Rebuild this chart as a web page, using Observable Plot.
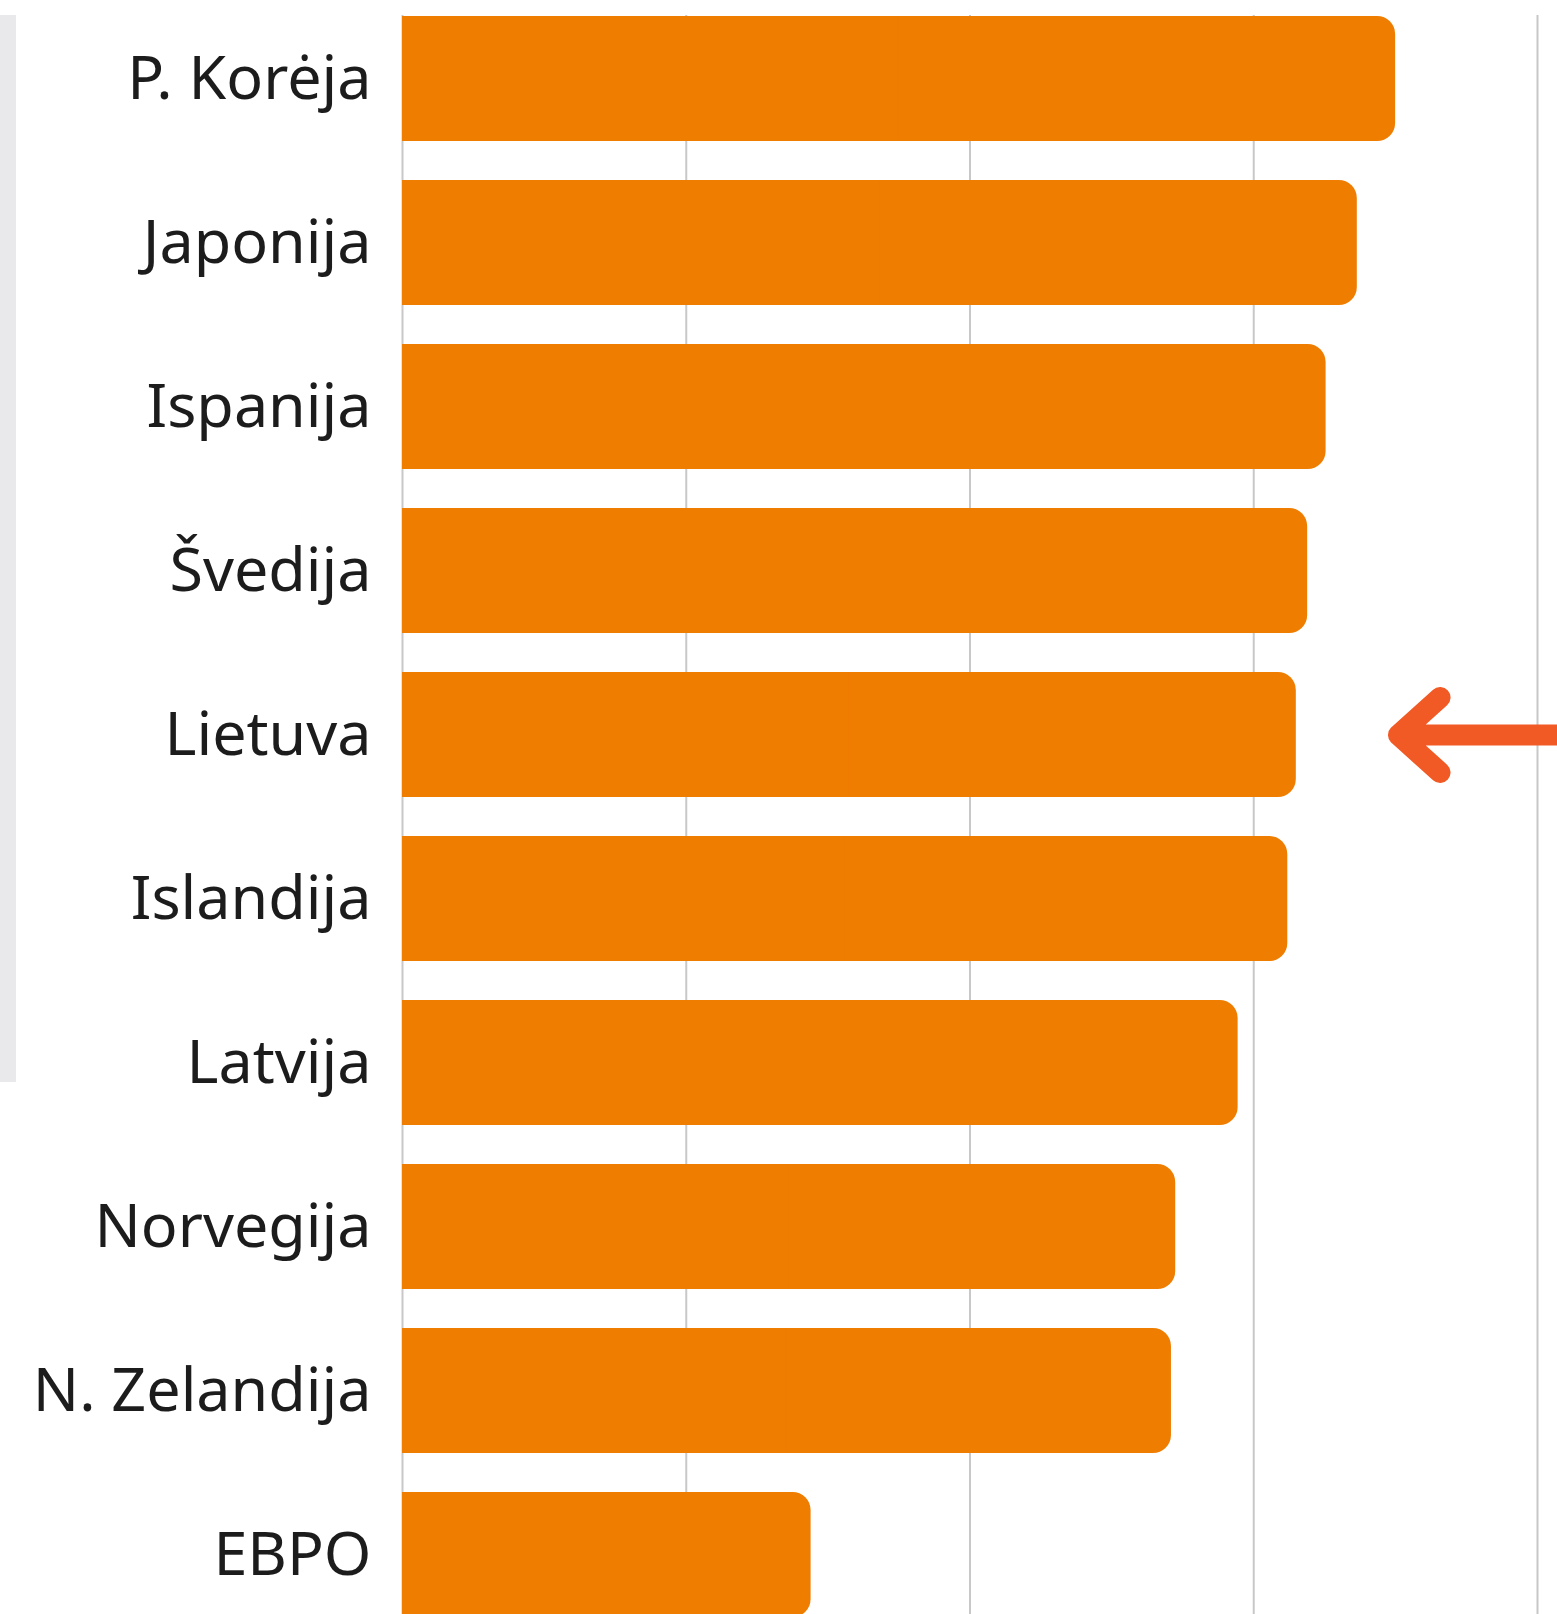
<!DOCTYPE html>
<html>
<head>
<meta charset="utf-8">
<script src="https://cdn.jsdelivr.net/npm/d3@7"></script>
<script src="https://cdn.jsdelivr.net/npm/@observablehq/plot@0.6"></script>
<style>
  html, body { margin: 0; padding: 0; background: #ffffff; }
  #wrap { position: relative; width: 1557px; height: 1614px; overflow: hidden; background: #ffffff; }
  #strip { position: absolute; left: 0; top: 15px; width: 16px; height: 1067px; background: #e9e9eb; z-index: 2; }
  #chart { position: absolute; left: 0; top: 0; z-index: 1; }
  #chart svg { display: block; overflow: hidden; }
</style>
</head>
<body>
<div id="wrap">
  <div id="chart"></div>
  <div id="strip"></div>
</div>
<script>
const countries = ["P. Korėja", "Japonija", "Ispanija", "Švedija", "Lietuva", "Islandija", "Latvija", "Norvegija", "N. Zelandija", "EBPO"];
const values = [70.0, 67.3, 65.1, 63.8, 63.0, 62.4, 58.9, 54.5, 54.2, 28.8];
const xTicks = [0, 20, 40, 60, 80];
const highlight = "Lietuva";
const arrowFrom = 83;
const arrowTo = 70.2;

const data = countries.map((c, i) => ({country: c, value: values[i]}));
const arrowData = [{country: highlight, x1: arrowFrom, x2: arrowTo}];

const barColor = "#ef7d00";
const arrowColor = "#f15a24";

const chart = Plot.plot({
  width: 1557,
  height: 1614,
  marginLeft: 402,
  marginRight: 20,
  marginTop: 15,
  marginBottom: 0,
  style: {fontFamily: "'Noto Sans', sans-serif", background: "transparent", color: "#1c1c1c"},
  x: {domain: [0, 80], axis: null},
  y: {
    domain: countries,
    paddingInner: 0.2387,
    paddingOuter: 0,
    range: [15, 15 + 164.2 * (countries.length - 0.2387)],
    label: null
  },
  marks: [
    Plot.gridX(xTicks, {stroke: "#c8c8c8", strokeOpacity: 1, strokeWidth: 2}),
    Plot.barX(data, {y: "country", x1: 0, x2: "value", fill: barColor, rx: 18}),
    Plot.barX(data, {y: "country", x1: 0, x2: d => d.value / 2, fill: barColor}),
    Plot.arrow(arrowData, {
      x1: "x1", x2: "x2", y1: "country", y2: "country",
      stroke: arrowColor, strokeWidth: 21, headLength: 4.0, headAngle: 84,
      strokeLinecap: "round", strokeLinejoin: "round"
    }),
    Plot.axisY({tickSize: 0, tickPadding: 31, fontSize: 61, fill: "#1c1c1c", label: null})
  ]
});
document.getElementById("chart").appendChild(chart);
</script>
</body>
</html>
